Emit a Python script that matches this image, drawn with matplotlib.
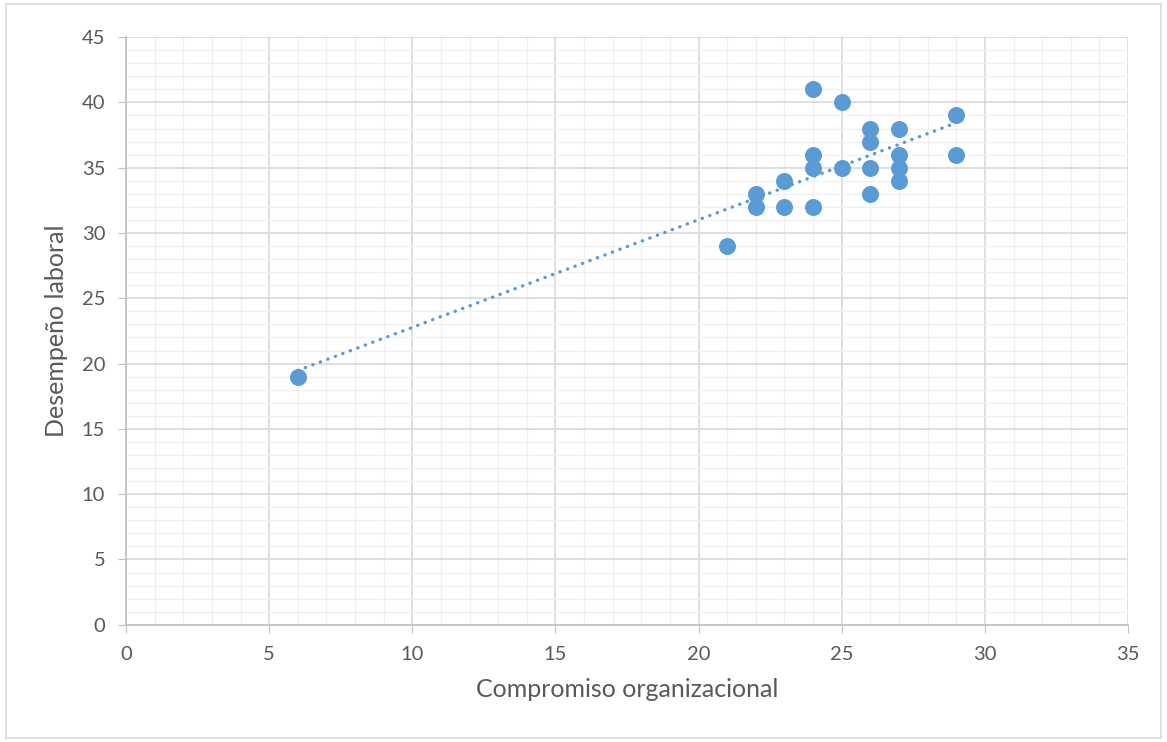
import numpy as np
import matplotlib
matplotlib.use("Agg")
import matplotlib.pyplot as plt
from matplotlib.ticker import MultipleLocator

# compromiso organizacional vs desempeño laboral
compromiso = [6, 21, 22, 22, 23, 23, 24, 24, 24, 24, 25, 25,
              26, 26, 26, 26, 27, 27, 27, 27, 29, 29]
desempeno = [19, 29, 33, 32, 34, 32, 41, 36, 35, 32, 40, 35,
             38, 37, 35, 33, 38, 36, 35, 34, 39, 36]
xticks = [0, 5, 10, 15, 20, 25, 30, 35]
yticks = [0, 5, 10, 15, 20, 25, 30, 35, 40, 45]

plt.rcParams['font.family'] = ['Lato', 'DejaVu Sans']
azul = '#5B9BD5'
gris = '#595959'

fig = plt.figure(figsize=(11.67, 7.42), dpi=100)
ax = fig.add_axes([0.108, 0.158, 0.8586, 0.792])

ax.scatter(compromiso, desempeno, s=150, color=azul, zorder=3, linewidths=0)

# linea de tendencia lineal
x = np.array(compromiso, dtype=float)
y = np.array(desempeno, dtype=float)
m, b = np.polyfit(x, y, 1)
xt = np.array([x.min(), x.max()])
ax.plot(xt, m * xt + b, color=azul, lw=2.4, linestyle=(0, (0.1, 2.3)),
        dash_capstyle='round', zorder=2)

ax.set_xlim(0, 35)
ax.set_ylim(0, 45)
ax.set_xticks(xticks)
ax.set_yticks(yticks)
ax.xaxis.set_minor_locator(MultipleLocator(1))
ax.yaxis.set_minor_locator(MultipleLocator(1))
ax.grid(which='major', color='#D9D9D9', lw=1.2, zorder=0)
ax.grid(which='minor', color='#F0F0F0', lw=1.0, zorder=0)
ax.set_axisbelow(True)

for s in ['top', 'right']:
    ax.spines[s].set_visible(False)
for s in ['left', 'bottom']:
    ax.spines[s].set_color('#BFBFBF')
    ax.spines[s].set_linewidth(1.2)
ax.tick_params(which='major', length=6, color='#BFBFBF', labelsize=14.5,
               labelcolor=gris, pad=9)
ax.tick_params(which='minor', length=0)

ax.set_xlabel('Compromiso organizacional', fontsize=18, color=gris, labelpad=11)
ax.set_ylabel('Desempeño laboral', fontsize=18, color=gris, labelpad=10)

# borde del area del grafico
fig.patches.append(plt.Rectangle((0.005, 0.006), 0.99, 0.988, transform=fig.transFigure,
                                 fill=False, edgecolor='#D9D9D9', lw=1.2))

fig.savefig('out.png', dpi=100)
